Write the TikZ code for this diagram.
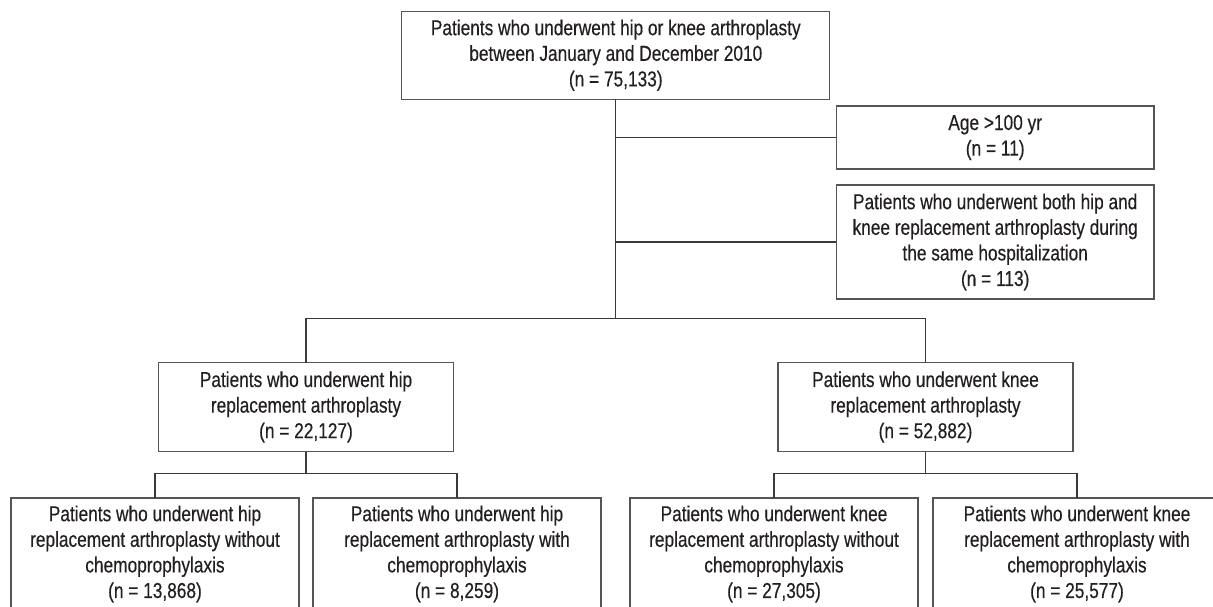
\documentclass[tikz,border=0pt]{standalone}
\usepackage{fontspec}
\setmainfont{Liberation Sans}[FakeStretch=0.8,FakeBold=0.35]
\definecolor{boxcol}{HTML}{555555}
\definecolor{linecol}{HTML}{3A3A3A}
\definecolor{txtcol}{HTML}{231F20}
\begin{document}
\begin{tikzpicture}[x=1pt,y=-1pt,
  flowbox/.style={draw=boxcol, line width=1.2pt, inner sep=0pt, outer sep=0pt,
    align=center, text=txtcol, font=\fontsize{21.6}{25.6}\selectfont},
  conn/.style={draw=linecol, line width=1.2pt}]
\useasboundingbox[fill=white] (0,0) rectangle (1213,607);

\node[flowbox, minimum width=428pt, minimum height=88pt] (top) at (615.8,55.2)
  {Patients who underwent hip or knee arthroplasty\\between January and December 2010\\(n = 75,133)};
\node[flowbox, minimum width=317.5pt, minimum height=63pt] (age) at (995.2,137.5)
  {Age >100 yr\\(n = 11)};
\node[flowbox, minimum width=317.5pt, minimum height=114pt] (both) at (995.2,242)
  {Patients who underwent both hip and\\knee replacement arthroplasty during\\the same hospitalization\\(n = 113)};
\node[flowbox, minimum width=295pt, minimum height=89pt] (hip) at (306,407)
  {Patients who underwent hip\\replacement arthroplasty\\(n = 22,127)};
\node[flowbox, minimum width=295pt, minimum height=89pt] (knee) at (925.5,407)
  {Patients who underwent knee\\replacement arthroplasty\\(n = 52,882)};
\node[flowbox, minimum width=288pt, minimum height=112pt] (b1) at (155,554)
  {Patients who underwent hip\\replacement arthroplasty without\\chemoprophylaxis\\(n = 13,868)};
\node[flowbox, minimum width=288pt, minimum height=112pt] (b2) at (457,554)
  {Patients who underwent hip\\replacement arthroplasty with\\chemoprophylaxis\\(n = 8,259)};
\node[flowbox, minimum width=288pt, minimum height=112pt] (b3) at (774,554)
  {Patients who underwent knee\\replacement arthroplasty without\\chemoprophylaxis\\(n = 27,305)};
\node[flowbox, minimum width=288pt, minimum height=112pt] (b4) at (1077,554)
  {Patients who underwent knee\\replacement arthroplasty with\\chemoprophylaxis\\(n = 25,577)};

\coordinate (split) at (615.8,318.7);
\coordinate (hs) at (306,473.3);

\draw[conn] (top.south) -- (top.south |- split);
\draw[conn] (top.south |- age.west) -- (age.west);
\draw[conn] (top.south |- both.west) -- (both.west);
\draw[conn] (hip.north) -- (hip.north |- split) -- (knee.north |- split) -- (knee.north);
\draw[conn] (hip.south) -- (hip.south |- hs);
\draw[conn] (b1.north) -- (b1.north |- hs) -- (b2.north |- hs) -- (b2.north);
\draw[conn] (knee.south) -- (knee.south |- hs);
\draw[conn] (b3.north) -- (b3.north |- hs) -- (b4.north |- hs) -- (b4.north);
\end{tikzpicture}
\end{document}
